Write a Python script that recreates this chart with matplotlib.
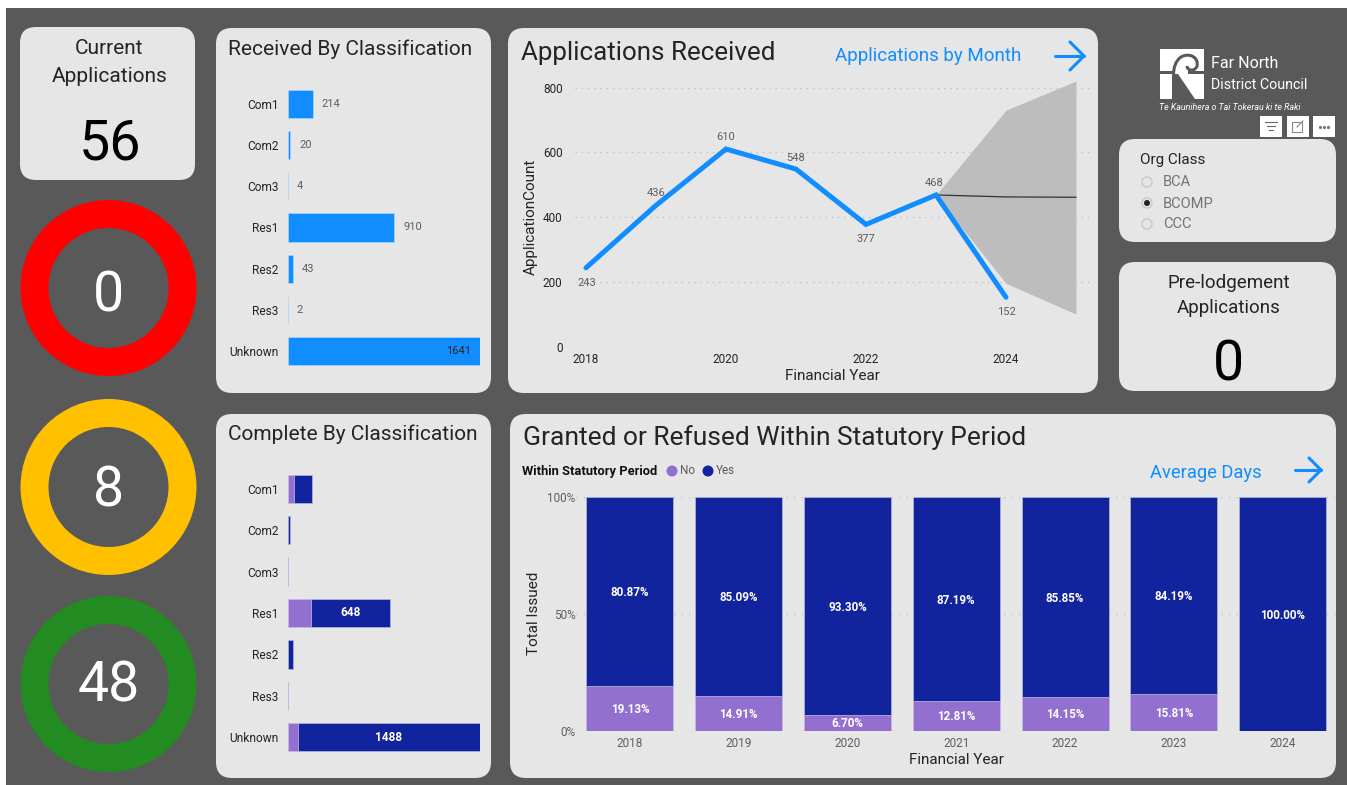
import matplotlib
matplotlib.use("Agg")
import matplotlib.pyplot as plt
from matplotlib.patches import FancyBboxPatch, Wedge, Circle, Rectangle, Polygon, PathPatch
from matplotlib.path import Path
import numpy as np

W, H = 1347, 785
plt.rcParams['font.family'] = ['Roboto', 'DejaVu Sans']

classes = ['Com1', 'Com2', 'Com3', 'Res1', 'Res2', 'Res3', 'Unknown']
received = [214, 20, 4, 910, 43, 2, 1641]
complete_no = [45, 2, 1, 188, 3, 0, 82]
complete_yes = [155, 15, 2, 648, 36, 1, 1488]
complete_labels = ['', '', '', '648', '', '', '1488']

app_years = [2018, 2019, 2020, 2021, 2022, 2023, 2024]
app_counts = [243, 436, 610, 548, 377, 468, 152]
fc_years = [2023, 2024, 2025]
fc_mid = [468, 462, 461]
fc_upper = [468, 730, 820]
fc_lower = [468, 195, 100]
y_ticks = [0, 200, 400, 600, 800]
x_ticks = [2018, 2020, 2022, 2024]

stat_years = ['2018', '2019', '2020', '2021', '2022', '2023', '2024']
stat_no = [19.13, 14.91, 6.70, 12.81, 14.15, 15.81, 0]
stat_yes = [80.87, 85.09, 93.30, 87.19, 85.85, 84.19, 100.00]

rings = [('0', '#FF0000'), ('8', '#FFC000'), ('48', '#228B22')]
org_options = ['BCA', 'BCOMP', 'CCC']
org_selected = 'BCOMP'

BG = '#595959'; PANEL = '#E6E6E6'; BLUE = '#118DFF'; NAVY = '#12239E'; PURPLE = '#9370CF'
DARK = '#252423'; GREY = '#605E5C'

fig = plt.figure(figsize=(W/100, H/100), dpi=100, facecolor='white')

def ax_px(l, t, r, b):
    a = fig.add_axes([l/W, 1-b/H, (r-l)/W, (b-t)/H])
    a.set_facecolor('none')
    return a

bg = fig.add_axes([0, 0, 1, 1]); bg.set_xlim(0, W); bg.set_ylim(H, 0); bg.axis('off')
bg.add_patch(Rectangle((6, 8), W-6, H-8, fc=BG, ec='none'))

def panel(l, t, r, b, rad=16):
    bg.add_patch(FancyBboxPatch((l+rad, t+rad), r-l-2*rad, b-t-2*rad,
                 boxstyle=f'round,pad={rad},rounding_size={rad}', fc=PANEL, ec='none'))

for p in [(20, 27, 195, 180), (216, 28, 491, 393), (508, 28, 1098, 393), (1119, 139, 1336, 242),
          (1119, 262, 1336, 391), (216, 414, 491, 778), (510, 414, 1336, 778)]:
    panel(*p)

def T(x, y, s, size, color=DARK, ha='center', va='center', **kw):
    bg.text(x, y+1, s, fontsize=size, color=color, ha=ha, va=va, **kw)

# KPI cards
T(109.5, 48, 'Current', 15); T(109.5, 76, 'Applications', 15)
T(110, 143, '56', 40, color='black')
T(1228.5, 282, 'Pre-lodgement', 13.5); T(1228.5, 307, 'Applications', 13.5)
T(1228, 364, '0', 40, color='black')

# Rings
for (val, col), cy, ty in zip(rings, [288, 487, 684], [295, 490, 685]):
    bg.add_patch(Wedge((108.5, cy), 88, 0, 360, width=28, fc=col, ec='none'))
    T(108.5, ty, val, 40, color='white')

# Titles
T(228, 48, 'Received By Classification', 15, ha='left')
T(228, 433, 'Complete By Classification', 15, ha='left')
T(521, 52, 'Applications Received', 18.7, ha='left')
T(523, 437, 'Granted or Refused Within Statutory Period', 19, ha='left')
T(835, 55, 'Applications by Month', 13.5, color=BLUE, ha='left')
T(1150, 472, 'Average Days', 13.2, color=BLUE, ha='left')

def arrow(x0, x1, y, s=14):
    bg.plot([x0, x1], [y, y], color=BLUE, lw=2.2, solid_capstyle='round')
    bg.plot([x1-s, x1, x1-s], [y-s, y, y+s], color=BLUE, lw=2.2, solid_capstyle='round', solid_joinstyle='miter')
arrow(1055, 1084, 56); arrow(1295, 1321, 470, 12)

# Received bars
def barax(t, b):
    a = ax_px(288, t, 480, b)
    a.set_xlim(0, 1); a.set_ylim(6.5, -0.5)
    a.tick_params(length=0, pad=7, labelsize=8.6, labelcolor=DARK)
    a.set_yticks(range(7)); a.set_yticklabels(classes)
    a.set_xticks([])
    for s in a.spines.values(): s.set_visible(False)
    return a

a = barax(83, 372)
a.set_xlim(0, max(received))
a.barh(classes, received, height=0.68, color=BLUE, edgecolor='#A9D4FF', linewidth=0.5)
for i, v in enumerate(received):
    if v == max(received):
        a.text(v-max(received)*0.045, i, str(v), ha='right', va='center', fontsize=8, color=DARK)
    else:
        a.text(v+max(received)*0.045, i, str(v), ha='left', va='center', fontsize=8, color=GREY)

# Complete bars
a = barax(468, 758)
tot = np.array(complete_no) + np.array(complete_yes)
a.set_xlim(0, tot.max())
a.barh(classes, complete_no, height=0.68, color=PURPLE, edgecolor='#C9B8E8', linewidth=0.5)
a.barh(classes, complete_yes, left=complete_no, height=0.68, color=NAVY, edgecolor='#B4B8E0', linewidth=0.5)
for i, s in enumerate(complete_labels):
    if s:
        a.text(complete_no[i]+complete_yes[i]/2, i, s, ha='center', va='center', fontsize=8.5,
               color='white', fontweight='bold')

# Line chart
a = ax_px(575, 87.5, 1090, 346.5)
a.set_xlim(2018+(575-586)/70, 2018+(1090-586)/70); a.set_ylim(0, 800)
a.set_yticks(y_ticks); a.set_xticks(x_ticks)
a.set_xticklabels([str(x) for x in x_ticks])
a.tick_params(length=0, labelsize=8.5, labelcolor=DARK, pad=5)
a.tick_params(axis='y', pad=9)
a.grid(axis='y', color='#BDBDBD', linestyle=(0, (1, 4)), linewidth=0.9)
a.set_axisbelow(True)
for s in a.spines.values(): s.set_visible(False)
a.fill_between(fc_years, fc_lower, fc_upper, color='#BDBDBD', lw=0, clip_on=False)
a.plot(fc_years, fc_mid, color='#333333', lw=0.9)
a.plot(app_years, app_counts, color=BLUE, lw=3.6, solid_joinstyle='miter', solid_capstyle='round', clip_on=False)
offs = [(0.5, -11), (0, 9), (0, 9), (0, 8), (0, -10.5), (-1, 8.5), (0, -10.5)]
for x, y, o in zip(app_years, app_counts, offs):
    a.annotate(str(y), (x, y), xytext=o, textcoords='offset points', ha='center', va='center',
               fontsize=8, color=GREY)
a.set_ylabel('ApplicationCount', fontsize=11, color=DARK, labelpad=3.5)
a.set_xlabel('Financial Year', fontsize=11, color=DARK, labelpad=1.5)

# Stacked chart
a = ax_px(576, 497, 1337, 730.5)
a.set_xlim(-0.5-(630-54.4-576)/108.8, 6.5); a.set_ylim(0, 100)
a.set_yticks([0, 50, 100]); a.set_yticklabels(['0%', '50%', '100%'])
a.tick_params(length=0, labelsize=8.5, labelcolor=GREY, pad=4.5)
a.tick_params(axis='y', pad=0.2)
a.grid(axis='y', color='#BDBDBD', linestyle=(0, (1, 5)), linewidth=0.9)
a.set_axisbelow(True)
for s in a.spines.values(): s.set_visible(False)
a.bar(stat_years, stat_no, width=0.8, color=PURPLE, edgecolor='#C9B8E8', linewidth=0.5)
a.bar(stat_years, stat_yes, bottom=stat_no, width=0.8, color=NAVY, edgecolor='#B4B8E0', linewidth=0.5)
for i, (n, y) in enumerate(zip(stat_no, stat_yes)):
    a.annotate(f'{y:.2f}%', (i, n+y/2), xytext=(0, -1), textcoords='offset points', ha='center', va='center',
               fontsize=8.4, color='white', fontweight='bold')
    if n:
        a.annotate(f'{n:.2f}%', (i, n/2), xytext=(0, -0.7), textcoords='offset points', ha='center', va='center',
                   fontsize=8.4, color='white', fontweight='bold')
a.set_ylabel('Total Issued', fontsize=11, color=DARK, labelpad=4.5)
a.set_xlabel('Financial Year', fontsize=11, color=DARK, labelpad=2)

# Legend
T(522, 470, 'Within Statutory Period', 9.3, ha='left', fontweight='bold', color='#111111')
bg.add_patch(Circle((672, 471), 5.5, fc=PURPLE, ec='none')); T(680, 470, 'No', 8.5, color=GREY, ha='left')
bg.add_patch(Circle((708, 471), 5.5, fc=NAVY, ec='none')); T(716, 470, 'Yes', 8.5, color=GREY, ha='left')

# Slicer
T(1140, 159, 'Org Class', 11, ha='left')
for opt, y in zip(org_options, [182, 203, 224]):
    bg.add_patch(Circle((1147, y), 5, fc='#E6E6E6', ec='#C8C8C8', lw=1))
    if opt == org_selected:
        bg.add_patch(Circle((1147, y), 3, fc='#222222', ec='none'))
    T(1163, y-0.5, opt, 10.5, color='#747474', ha='left')

# Header icons
for x in [1260, 1287, 1313]:
    bg.add_patch(Rectangle((x, 116), 22, 21, fc='white', ec='none'))
for w, y in zip([12, 8, 4], [122, 126, 130]):
    bg.plot([1271-w/2, 1271+w/2], [y, y], color='#666666', lw=0.8)
bg.add_patch(Rectangle((1292, 122), 10, 10, fc='none', ec='#888888', lw=0.8))
bg.plot([1297, 1303], [127, 121], color='#888888', lw=0.8)
bg.plot([1320, 1324, 1328], [127, 127, 127], ls='none', marker='o', ms=1.3, color='#777777')

# Logo
bg.add_patch(Rectangle((1160, 49), 44, 50, fc='white', ec='none'))
bg.add_patch(Rectangle((1160, 71), 15, 3, fc=BG, ec='none'))
bg.add_patch(Rectangle((1188, 71), 16, 3, fc=BG, ec='none'))
bg.add_patch(Polygon([(1172, 74), (1178, 74), (1195, 99), (1172, 99)], fc=BG, ec='none'))
bg.add_patch(Polygon([(1182, 74), (1192, 74), (1192, 92)], fc='white', ec='none'))
koru = Path([(1182, 97), (1172, 85), (1170, 65), (1181, 57), (1190, 52), (1199, 58), (1197, 66), (1195, 72), (1187, 71), (1187, 66)],
            [1, 4, 4, 4, 4, 4, 4, 4, 4, 4])
bg.add_patch(PathPatch(koru, fc='none', ec=BG, lw=2.2))
T(1211, 63, 'Far North', 11.5, color='white', ha='left')
T(1211, 84, 'District Council', 10.3, color='white', ha='left')
T(1159, 107, 'Te Kaunihera o Tai Tokerau ki te Raki', 6.4, color='white', ha='left', style='italic')

fig.savefig('out.png', dpi=100)
